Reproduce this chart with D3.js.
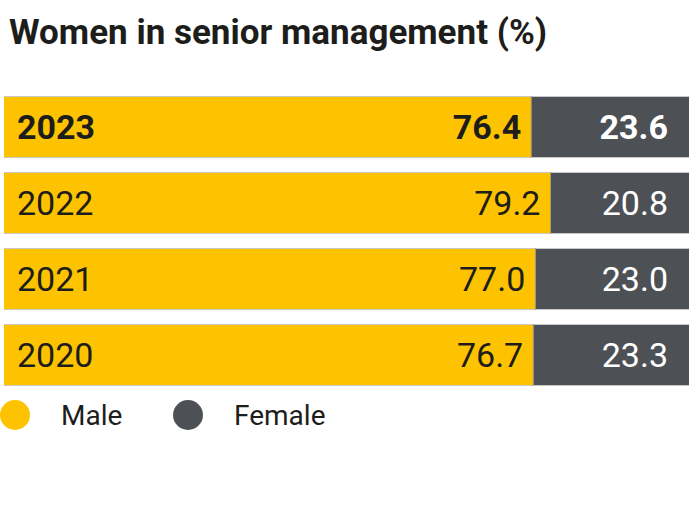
<!DOCTYPE html>
<html><head><meta charset="utf-8">
<script src="https://cdn.jsdelivr.net/npm/d3@7"></script>
<style>body{margin:0;background:#fff}svg{display:block}text{font-family:Roboto,"DejaVu Sans",sans-serif}</style>
</head><body><svg id="c" width="689" height="530"></svg>
<script>
const years = ["2023","2022","2021","2020"];
const male = [76.4, 79.2, 77.0, 76.7];
const female = [23.6, 20.8, 23.0, 23.3];
const seriesNames = ["Male","Female"];
const colors = ["#FDC300","#4D5156"];

const svg = d3.select("#c");
svg.append("text").attr("x",9).attr("y",44).attr("font-size",35).attr("font-weight","bold")
  .attr("fill","#1d1d1b").text("Women in senior management (%)");

const x = d3.scaleLinear().domain([0,100]).range([4,694]);
const yb = d3.scaleBand().domain(years).range([96, 386]).paddingInner(14/76).paddingOuter(0);

const rows = svg.selectAll("g.row").data(years).join("g").attr("class","row")
  .attr("transform",d=>`translate(0,${yb(d)})`);
const bh = yb.bandwidth();
rows.append("rect").attr("x",x(0)).attr("y",0).attr("width",(d,i)=>x(male[i])-x(0)).attr("height",bh)
  .attr("fill",colors[0]);
rows.append("rect").attr("x",(d,i)=>x(male[i])).attr("y",0).attr("width",(d,i)=>x(100)-x(male[i])).attr("height",bh)
  .attr("fill",colors[1]);
rows.append("line").attr("x1",x(0)).attr("x2",689).attr("y1",0.5).attr("y2",0.5).attr("stroke","#c8c8c8");
rows.append("line").attr("x1",x(0)).attr("x2",689).attr("y1",bh-0.5).attr("y2",bh-0.5).attr("stroke","#c8c8c8");
rows.append("line").attr("x1",(d,i)=>x(male[i])).attr("x2",(d,i)=>x(male[i])).attr("y1",0).attr("y2",bh).attr("stroke","#b0a070").attr("stroke-width",1);

const fs = 34;
rows.append("text").attr("x",17).attr("y",bh/2+12).attr("font-size",fs)
  .attr("font-weight",(d,i)=>i===0?"bold":"normal").attr("fill","#1d1d1b").text(d=>d);
rows.append("text").attr("x",(d,i)=>x(male[i])-10).attr("y",bh/2+12).attr("text-anchor","end").attr("font-size",fs)
  .attr("font-weight",(d,i)=>i===0?"bold":"normal").attr("fill","#1d1d1b").text((d,i)=>male[i].toFixed(1));
rows.append("text").attr("x",668).attr("y",bh/2+12).attr("text-anchor","end").attr("font-size",fs)
  .attr("font-weight",(d,i)=>i===0?"bold":"normal").attr("fill","#fff").text((d,i)=>female[i].toFixed(1));

const lg = svg.selectAll("g.lg").data(seriesNames).join("g").attr("class","lg")
  .attr("transform",(d,i)=>`translate(${[15,188][i]},415)`);
lg.append("circle").attr("r",15).attr("fill",(d,i)=>colors[i]);
lg.append("text").attr("x",46).attr("y",10).attr("font-size",28).attr("fill","#1d1d1b").text(d=>d);
</script></body></html>
